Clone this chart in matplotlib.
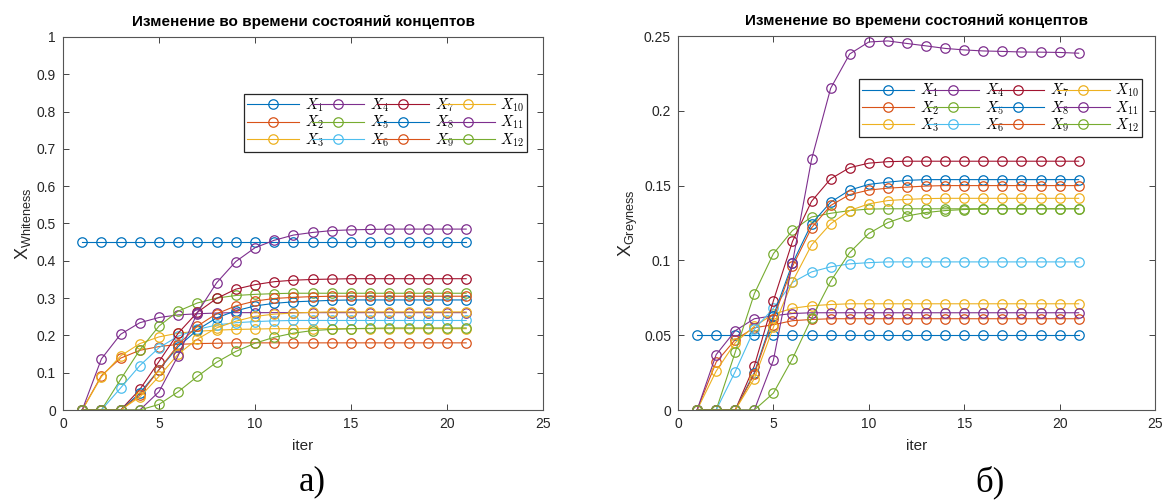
import matplotlib
matplotlib.use("Agg")
import matplotlib.pyplot as plt
from matplotlib.font_manager import FontProperties

plt.rcParams['font.family'] = ['Liberation Sans', 'DejaVu Sans']
plt.rcParams['mathtext.fontset'] = 'custom'
plt.rcParams['mathtext.rm'] = 'Liberation Sans'
plt.rcParams['mathtext.it'] = 'Liberation Sans:italic'

iters = list(range(1, 22))
labels = ['$X_{%d}$' % i for i in range(1, 13)]
colors = ['#0072BD', '#D95319', '#EDB120', '#7E2F8E', '#77AC30', '#4DBEEE',
          '#A2142F', '#0072BD', '#D95319', '#EDB120', '#7E2F8E', '#77AC30']

# ---- Whiteness (a) ----
W_X1 = [0.45, 0.45, 0.45, 0.45, 0.45, 0.45, 0.45, 0.45, 0.45, 0.45, 0.45,
        0.45, 0.45, 0.45, 0.45, 0.45, 0.45, 0.45, 0.45, 0.45, 0.45]
W_X2 = [0, 0.092, 0.139, 0.160, 0.170, 0.176, 0.178, 0.179, 0.180, 0.180, 0.180,
        0.180, 0.180, 0.180, 0.180, 0.180, 0.180, 0.180, 0.180, 0.180, 0.180]
W_X3 = [0, 0.089, 0.145, 0.178, 0.196, 0.206, 0.211, 0.214, 0.216, 0.217, 0.218,
        0.218, 0.218, 0.218, 0.218, 0.218, 0.218, 0.218, 0.218, 0.218, 0.218]
W_X4 = [0, 0.137, 0.203, 0.234, 0.248, 0.255, 0.258, 0.260, 0.261, 0.261, 0.261,
        0.261, 0.261, 0.261, 0.261, 0.261, 0.261, 0.261, 0.261, 0.261, 0.261]
W_X5 = [0, 0, 0.082, 0.161, 0.225, 0.265, 0.287, 0.300, 0.307, 0.310, 0.312,
        0.313, 0.313, 0.313, 0.313, 0.313, 0.313, 0.313, 0.313, 0.313, 0.313]
W_X6 = [0, 0, 0.059, 0.119, 0.167, 0.198, 0.216, 0.228, 0.234, 0.237, 0.239,
        0.240, 0.240, 0.240, 0.240, 0.240, 0.240, 0.240, 0.240, 0.240, 0.240]
W_X7 = [0, 0, 0, 0.055, 0.130, 0.206, 0.262, 0.299, 0.324, 0.336, 0.344,
        0.348, 0.350, 0.351, 0.352, 0.352, 0.352, 0.352, 0.352, 0.352, 0.352]
W_X8 = [0, 0, 0, 0.045, 0.108, 0.170, 0.215, 0.247, 0.266, 0.279, 0.286,
        0.290, 0.292, 0.294, 0.295, 0.295, 0.295, 0.295, 0.295, 0.295, 0.295]
W_X9 = [0, 0, 0, 0.040, 0.108, 0.175, 0.225, 0.258, 0.279, 0.292, 0.299,
        0.302, 0.304, 0.305, 0.305, 0.305, 0.305, 0.305, 0.305, 0.305, 0.305]
W_X10 = [0, 0, 0, 0.035, 0.090, 0.150, 0.190, 0.220, 0.238, 0.251, 0.257,
         0.260, 0.262, 0.263, 0.263, 0.263, 0.263, 0.263, 0.263, 0.263, 0.263]
W_X11 = [0, 0, 0, 0, 0.049, 0.146, 0.261, 0.341, 0.398, 0.435, 0.455,
         0.469, 0.476, 0.481, 0.483, 0.484, 0.485, 0.485, 0.485, 0.485, 0.485]
W_X12 = [0, 0, 0, 0, 0.015, 0.049, 0.090, 0.128, 0.157, 0.179, 0.195,
         0.206, 0.213, 0.216, 0.218, 0.219, 0.220, 0.220, 0.220, 0.220, 0.220]

# ---- Greyness (б) ----
G_X1 = [0.05, 0.05, 0.05, 0.05, 0.05, 0.05, 0.05, 0.05, 0.05, 0.05, 0.05,
        0.05, 0.05, 0.05, 0.05, 0.05, 0.05, 0.05, 0.05, 0.05, 0.05]
G_X2 = [0, 0.032, 0.047, 0.055, 0.057, 0.0597, 0.0605, 0.061, 0.061, 0.061, 0.061,
        0.061, 0.061, 0.061, 0.061, 0.061, 0.061, 0.061, 0.061, 0.061, 0.061]
G_X3 = [0, 0.026, 0.045, 0.056, 0.064, 0.068, 0.0697, 0.0705, 0.071, 0.071, 0.071,
        0.071, 0.071, 0.071, 0.071, 0.071, 0.071, 0.071, 0.071, 0.071, 0.071]
G_X4 = [0, 0.037, 0.053, 0.061, 0.063, 0.0645, 0.065, 0.065, 0.065, 0.065, 0.065,
        0.065, 0.065, 0.065, 0.065, 0.065, 0.065, 0.065, 0.065, 0.065, 0.065]
G_X5 = [0, 0, 0.0387, 0.0777, 0.1045, 0.120, 0.129, 0.1315, 0.1333, 0.1343, 0.1345,
        0.1345, 0.1345, 0.1345, 0.1345, 0.1345, 0.1345, 0.1345, 0.1345, 0.1345, 0.1345]
G_X6 = [0, 0, 0.0257, 0.054, 0.068, 0.0853, 0.0923, 0.0957, 0.0977, 0.0985, 0.099,
        0.099, 0.099, 0.099, 0.099, 0.099, 0.099, 0.099, 0.099, 0.099, 0.099]
G_X7 = [0, 0, 0, 0.0295, 0.073, 0.1127, 0.1395, 0.1545, 0.162, 0.165, 0.166,
        0.1663, 0.1663, 0.1663, 0.1663, 0.1663, 0.1663, 0.1663, 0.1663, 0.1663, 0.1663]
G_X8 = [0, 0, 0, 0.025, 0.063, 0.098, 0.1245, 0.1389, 0.147, 0.1508, 0.1523,
        0.1535, 0.154, 0.154, 0.154, 0.154, 0.154, 0.154, 0.154, 0.154, 0.154]
G_X9 = [0, 0, 0, 0.024, 0.061, 0.096, 0.1218, 0.1367, 0.144, 0.147, 0.1483,
        0.149, 0.1497, 0.150, 0.150, 0.150, 0.150, 0.150, 0.150, 0.150, 0.150]
G_X10 = [0, 0, 0, 0.021, 0.0553, 0.0858, 0.1103, 0.1245, 0.1333, 0.1378, 0.140,
         0.1408, 0.1413, 0.1415, 0.1415, 0.1415, 0.1415, 0.1415, 0.1415, 0.1415, 0.1415]
G_X11 = [0, 0, 0, 0, 0.0333, 0.0985, 0.1675, 0.215, 0.238, 0.246, 0.2467,
         0.245, 0.2434, 0.2417, 0.2407, 0.240, 0.2397, 0.2393, 0.2392, 0.239, 0.2385]
G_X12 = [0, 0, 0, 0, 0.0113, 0.0343, 0.0613, 0.086, 0.1053, 0.118, 0.1253,
         0.1297, 0.132, 0.1333, 0.134, 0.1345, 0.1345, 0.1345, 0.1345, 0.1345, 0.1345]

W_series = [W_X1, W_X2, W_X3, W_X4, W_X5, W_X6, W_X7, W_X8, W_X9, W_X10, W_X11, W_X12]
G_series = [G_X1, G_X2, G_X3, G_X4, G_X5, G_X6, G_X7, G_X8, G_X9, G_X10, G_X11, G_X12]

title = 'Изменение во времени состояний концептов'
x_ticks = [0, 5, 10, 15, 20, 25]
W_yticks = [0, 0.1, 0.2, 0.3, 0.4, 0.5, 0.6, 0.7, 0.8, 0.9, 1]
W_yticklabels = ['0', '0.1', '0.2', '0.3', '0.4', '0.5', '0.6', '0.7', '0.8', '0.9', '1']
G_yticks = [0, 0.05, 0.1, 0.15, 0.2, 0.25]
G_yticklabels = ['0', '0.05', '0.1', '0.15', '0.2', '0.25']

fig = plt.figure(figsize=(11.63, 5.03), dpi=100)
axL = fig.add_axes([63 / 1163, 93 / 503, 480 / 1163, 373 / 503])
axR = fig.add_axes([678 / 1163, 93 / 503, 477 / 1163, 374 / 503])

axcol = '#262626'
leg_prop = FontProperties(family='DejaVu Serif', size=10.5, math_fontfamily='cm')


def setup(ax, series, yticks, yticklabels, ylim, ylabel, leg_bbox):
    for s, c, lab in zip(series, colors, labels):
        ax.plot(iters, s, '-o', color=c, mfc='none', mec=c, ms=6.8, lw=0.8,
                mew=0.9, label=lab)
    ax.set_xlim(0, 25)
    ax.set_ylim(*ylim)
    ax.set_xticks(x_ticks)
    ax.set_xticklabels([str(t) for t in x_ticks])
    ax.set_yticks(yticks)
    ax.set_yticklabels(yticklabels)
    ax.tick_params(direction='in', top=True, right=True, length=4.5, width=0.6,
                   labelsize=10, colors=axcol, pad=5)
    for sp in ax.spines.values():
        sp.set_color('#555555')
        sp.set_linewidth(0.8)
    ax.set_title(title, fontsize=11, fontweight='bold', color='black', pad=8)
    ax.set_xlabel('iter', fontsize=11, color=axcol, labelpad=6)
    ax.set_ylabel(ylabel, fontsize=13, color=axcol, labelpad=3)
    leg = ax.legend(ncol=4, loc='lower left', bbox_to_anchor=leg_bbox, mode='expand',
                    prop=leg_prop, frameon=True, fancybox=False, framealpha=1,
                    edgecolor='#262626', handlelength=3.6, handletextpad=0.4,
                    columnspacing=0.4, labelspacing=0.0, borderpad=0.2,
                    borderaxespad=0)
    leg.get_frame().set_linewidth(0.9)


setup(axL, W_series, W_yticks, W_yticklabels, (0, 1),
      r'$\mathrm{X}_{\mathrm{Whiteness}}$', (0.377, 0.692, 0.590, 0.144))
setup(axR, G_series, G_yticks, G_yticklabels, (0, 0.25),
      r'$\mathrm{X}_{\mathrm{Greyness}}$', (0.379, 0.730, 0.594, 0.144))

fig.text(312 / 1163, 1 - 482 / 503, 'а)', family='Liberation Serif', fontsize=25,
         ha='center', va='center')
fig.text(990 / 1163, 1 - 482 / 503, 'б)', family='Liberation Serif', fontsize=25,
         ha='center', va='center')

fig.savefig('out.png', dpi=100)
